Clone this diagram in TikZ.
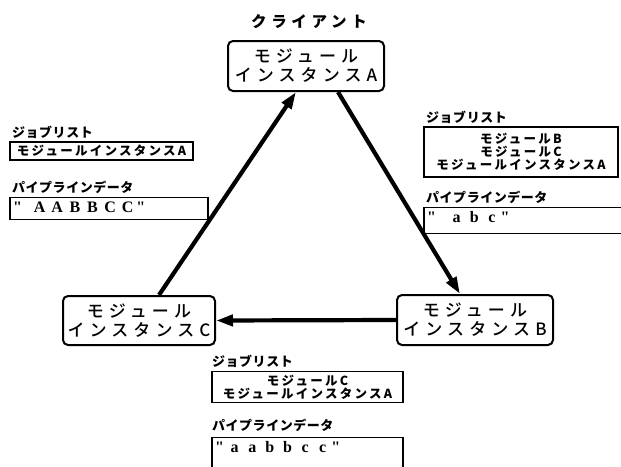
\documentclass[tikz,border=0pt]{standalone}
\usepackage{fontspec}
\usetikzlibrary{arrows.meta}
\newfontfamily\jp{Noto Sans CJK JP}
\newfontfamily\jpm{Noto Sans CJK JP Medium}
\newfontfamily\jpk{Noto Sans CJK JP Black}
\newfontfamily\ser{Liberation Serif}
\newcommand\fwc[1]{\makebox[17.6pt][c]{#1}}
\tikzset{
  titletext/.style={inner sep=0pt, font=\jpk\fontsize{15.5}{18}\selectfont\addfontfeature{LetterSpace=30}},
  modbox/.style={draw, line width=2pt, rounded corners=5pt, align=center, inner sep=0pt,
    font=\jpm\fontsize{17}{19}\selectfont\addfontfeature{LetterSpace=30}},
  lab/.style={anchor=west, inner sep=0pt, font=\jpk\fontsize{13}{15}\selectfont\addfontfeature{LetterSpace=4}},
  listbox/.style={draw, line width=1.6pt, inner sep=0pt, align=center,
    font=\jp\bfseries\fontsize{12.5}{12.8}\selectfont\addfontfeature{LetterSpace=18}},
  databox/.style={draw, line width=1.6pt, inner xsep=3pt, inner ysep=1pt, align=left, text height=14pt,
    font=\ser\bfseries\fontsize{16}{18}\selectfont},
  flow/.style={line width=4.2pt, -{Triangle[length=17pt,width=11pt]}}
}
\begin{document}
\begin{tikzpicture}[x=1pt,y=-1pt]
\useasboundingbox[fill=white] (0,0) rectangle (621,466);
% title
\node[titletext] (cl) at (309,22) {クライアント};
% module instances
\node[modbox, minimum width=156pt, minimum height=50pt] (A) at (306,66) {モジュール\\インスタンスA};
\node[modbox, minimum width=156pt, minimum height=50pt] (B) at (475,320) {モジュール\\インスタンスB};
\node[modbox, minimum width=152pt, minimum height=49pt] (C) at (139,320.5) {モジュール\\インスタンスC};
% connectors
\draw[flow] ([xshift=20pt]C.north) -- ([xshift=-10pt]A.south);
\draw[flow] ([xshift=32pt]A.south) -- ([xshift=-15pt]B.north);
\draw[flow] (B.west) -- (C.east);
% left
\node[lab] (jl1) at (12,132) {ジョブリスト};
\node[listbox, minimum width=183pt, minimum height=18pt] (jb1) at (101.5,151) {モジュールインスタンスA};
\node[lab] (pl1) at (12,187) {パイプラインデータ};
\node[databox, text width=192pt, text depth=6pt] (pb1) at (109,208.5) {"\kern9pt\fwc{A}\fwc{A}\fwc{B}\fwc{B}\fwc{C}\fwc{C}"};
% right
\node[lab] (jl2) at (426,117) {ジョブリスト};
\node[listbox, minimum width=194pt, minimum height=50pt] (jb2) at (521,152) {モジュールB\\モジュールC\\モジュールインスタンスA};
\node[lab] (pl2) at (426,197) {パイプラインデータ};
\node[databox, text width=194pt, text depth=10pt] (pb2) at (524,220.5) {"\kern12pt\fwc{a}\fwc{b}\fwc{c}"};
% bottom
\node[lab] (jl3) at (212,361) {ジョブリスト};
\node[listbox, minimum width=191pt, minimum height=31pt] (jb3) at (307.5,387) {モジュールC\\モジュールインスタンスA};
\node[lab] (pl3) at (212,425) {パイプラインデータ};
\node[databox, text width=185pt, text depth=21pt] (pb3) at (307.5,456) {"\kern2pt\fwc{a}\fwc{a}\fwc{b}\fwc{b}\fwc{c}\fwc{c}"};
\end{tikzpicture}
\end{document}
